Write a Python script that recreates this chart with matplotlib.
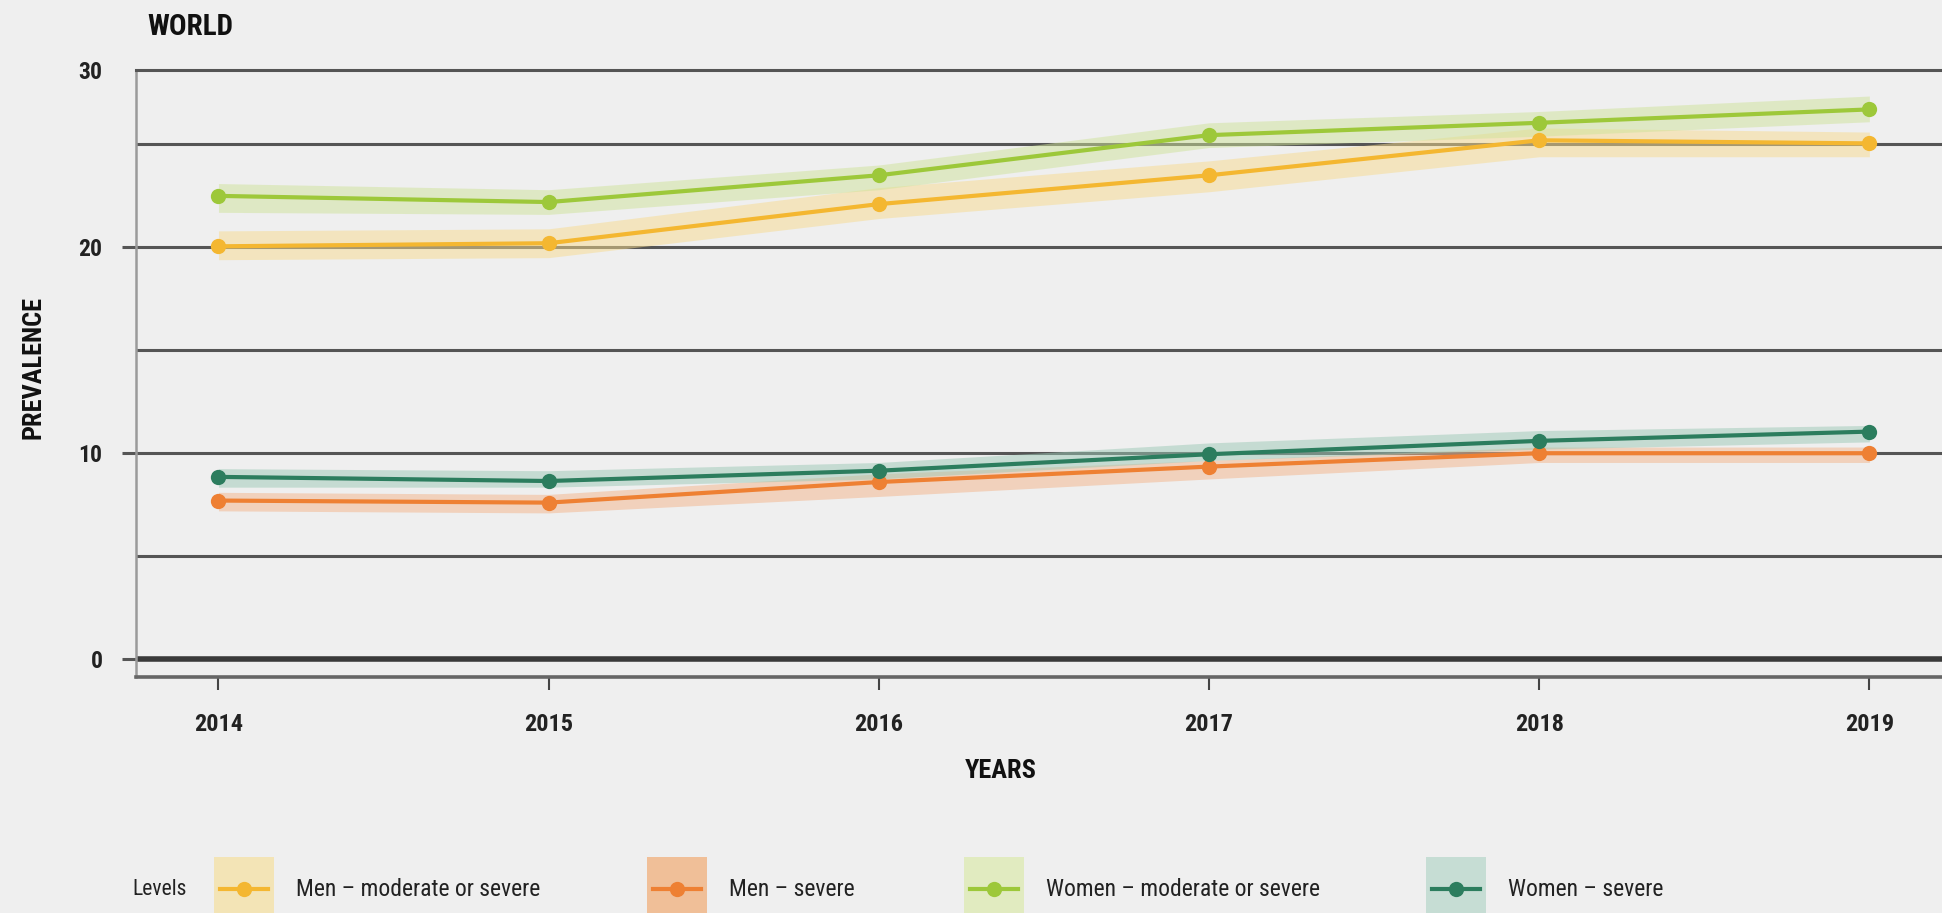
import matplotlib
matplotlib.use("Agg")
import matplotlib.pyplot as plt
from matplotlib.patches import Rectangle
from matplotlib.lines import Line2D
from matplotlib import font_manager as fm

years = [2014, 2015, 2016, 2017, 2018, 2019]

men_mod = [20.05, 20.2, 22.1, 23.5, 25.2, 25.05]
men_mod_lo = [19.4, 19.5, 21.4, 22.7, 24.4, 24.4]
men_mod_hi = [20.8, 20.9, 22.9, 24.2, 25.8, 25.6]

men_sev = [7.7, 7.6, 8.6, 9.35, 10.0, 10.0]
men_sev_lo = [7.2, 7.1, 7.9, 8.75, 9.55, 9.55]
men_sev_hi = [8.1, 8.0, 9.0, 9.65, 10.3, 10.3]

wom_mod = [22.5, 22.2, 23.5, 25.45, 26.05, 26.7]
wom_mod_lo = [21.7, 21.6, 22.8, 24.85, 25.4, 26.1]
wom_mod_hi = [23.1, 22.8, 24.0, 26.05, 26.6, 27.35]

wom_sev = [8.85, 8.65, 9.15, 9.95, 10.6, 11.05]
wom_sev_lo = [8.35, 8.35, 8.75, 9.65, 10.2, 10.55]
wom_sev_hi = [9.25, 9.15, 9.55, 10.5, 11.1, 11.35]

labels = ["Men – moderate or severe", "Men – severe",
          "Women – moderate or severe", "Women – severe"]
colors = ["#F4B731", "#EE8033", "#9DC83A", "#2C7D5E"]
band_colors = ["#F7DB8E", "#F3B48A", "#CFE39A", "#9CC9B6"]
legend_box = ["#F3E4B6", "#F0BF98", "#E1EBC0", "#C6DDD4"]

series = [(men_mod, men_mod_lo, men_mod_hi),
          (men_sev, men_sev_lo, men_sev_hi),
          (wom_mod, wom_mod_lo, wom_mod_hi),
          (wom_sev, wom_sev_lo, wom_sev_hi)]

names = {f.name for f in fm.fontManager.ttflist}
cands = ["DejaVu Sans Condensed", "Liberation Sans Narrow", "Roboto Condensed",
         "Open Sans Condensed", "Noto Sans Condensed"]
fam = [c for c in cands if c in names] + ["DejaVu Sans"]
plt.rcParams['font.family'] = fam
plt.rcParams['font.stretch'] = 'condensed'

bg = "#EFEFEF"
fig = plt.figure(figsize=(19.42, 9.13), dpi=100, facecolor=bg)
ax = fig.add_axes([0.070, 0.2585, 0.930, 0.6645], facecolor=bg)

ax.set_xlim(2013.75, 2019.22)
ax.set_ylim(-0.87, 28.6)

for v in [5, 10, 15, 20, 25]:
    ax.axhline(v, color="#555555", lw=2.2, zorder=1)
ax.axhline(0, color="#3a3a3a", lw=4.0, zorder=1)

for (vals, lo, hi), c, bc in zip(series, colors, band_colors):
    ax.fill_between(years, lo, hi, color=bc, alpha=0.5, lw=0, zorder=2)
for (vals, lo, hi), c, bc in zip(series, colors, band_colors):
    ax.plot(years, vals, color=c, lw=3.0, marker="o", markersize=11,
            markeredgewidth=0, zorder=3)

ax.spines["right"].set_visible(False)
ax.spines["top"].set_color("#555555")
ax.spines["top"].set_linewidth(2.2)
ax.spines["left"].set_color("#9a9a9a")
ax.spines["left"].set_linewidth(1.8)
ax.spines["bottom"].set_color("#666666")
ax.spines["bottom"].set_linewidth(2.6)

ytop = ax.get_ylim()[1]
ax.set_yticks([0, 10, 20, ytop])
ax.set_yticklabels(["0", "10", "20", "30"])
ax.tick_params(axis="y", length=10, width=2.2, color="#555555", pad=14,
               labelsize=17)
for t in ax.get_yticklabels():
    t.set_fontweight("bold")
    t.set_color("#222222")
ax.yaxis.get_major_ticks()[-1].tick1line.set_visible(False)

ax.set_xticks(years)
ax.set_xticklabels([str(y) for y in years])
ax.tick_params(axis="x", length=9, width=1.5, color="#444444", pad=17,
               labelsize=17.5, labelcolor="#222222")
for t in ax.get_xticklabels():
    t.set_fontweight("bold")

fig.text(808 / 1568, 1 - 622 / 737, "YEARS", fontsize=19, fontweight="bold",
         ha="center", va="center", color="#111111")
fig.text(0.017, 0.598, "PREVALENCE", rotation=90, fontsize=19,
         fontweight="bold", ha="center", va="center", color="#111111")
fig.text(0.076, 0.970, "WORLD", fontsize=21, fontweight="bold",
         ha="left", va="center", color="#111111")

W, H = 1942, 913
ly = 889
fig.text(132 / W, 1 - ly / H, "Levels", fontsize=15.5, ha="left",
         va="center", color="#222222")
box_x = [214, 647, 964, 1426]
for bx, lab, c, lb in zip(box_x, labels, colors, legend_box):
    fig.patches.append(Rectangle((bx / W, 0), 60 / W, (913 - 857) / H,
                                 transform=fig.transFigure,
                                 color=lb, lw=0))
    fig.lines.append(Line2D([(bx + 6) / W, (bx + 54) / W],
                            [1 - ly / H, 1 - ly / H],
                            transform=fig.transFigure, color=c, lw=3.0))
    fig.lines.append(Line2D([(bx + 30) / W], [1 - ly / H],
                            transform=fig.transFigure, color=c,
                            marker="o", markersize=11, markeredgewidth=0))
    fig.text((bx + 82) / W, 1 - ly / H, lab, fontsize=17, ha="left",
             va="center", color="#222222")

fig.savefig("out.png", dpi=100, facecolor=bg)
